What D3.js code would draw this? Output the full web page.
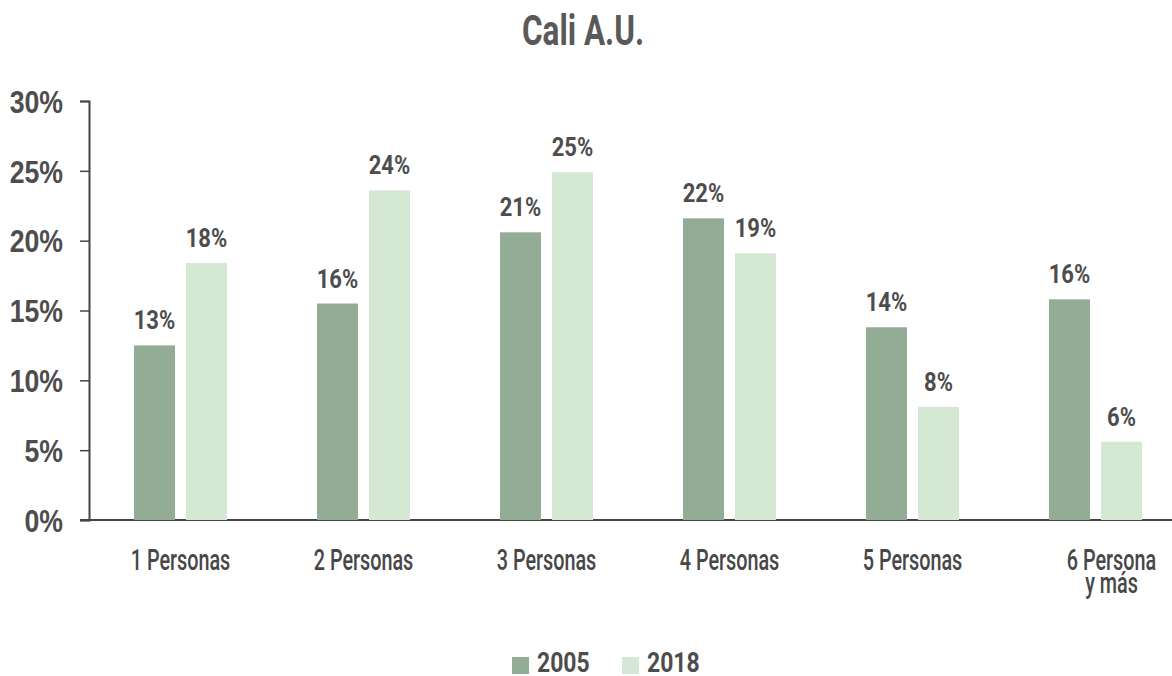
<!DOCTYPE html>
<html>
<head>
<meta charset="utf-8">
<script src="https://cdn.jsdelivr.net/npm/d3@7"></script>
<style>
	body { margin: 0; background: #fff; }
	svg { display: block; font-family: Roboto, "Liberation Sans", sans-serif; }
	.title { font-size: 42px; font-weight: bold; fill: #595959; }
	.tick text { font-size: 31px; font-weight: bold; fill: #4d4d4d; }
	.xlab { font-size: 30px; font-weight: 500; fill: #474747; }
	.val { font-size: 25px; font-weight: bold; fill: #4d4d4d; }
	.leg { font-size: 28px; font-weight: bold; fill: #4d4d4d; }
</style>
</head>
<body>
<svg width="1172" height="676"></svg>
<script>
const categories = ["1 Personas", "2 Personas", "3 Personas", "4 Personas", "5 Personas", "6 Persona|y más"];
const series = ["2005", "2018"];
const values2005 = [12.5, 15.5, 20.6, 21.6, 13.8, 15.8];
const values2018 = [18.4, 23.6, 24.9, 19.1, 8.1, 5.6];
const labels2005 = ["13%", "16%", "21%", "22%", "14%", "16%"];
const labels2018 = ["18%", "24%", "25%", "19%", "8%", "6%"];
const yTicks = [0, 5, 10, 15, 20, 25, 30];
const colors = ["#93ac95", "#d5e8d4"];

const svg = d3.select("svg");

const x = d3.scaleBand().domain(categories).range([89, 1187]);
const y = d3.scaleLinear().domain([0, 30]).range([520, 101]);

// narrow a text horizontally around its anchor point
const squeeze = (sx) => (tx, ty) => `translate(${tx},${ty}) scale(${sx},1)`;

svg.append("text")
	.attr("class", "title")
	.attr("transform", squeeze(0.75)(583, 45))
	.attr("text-anchor", "middle")
	.text("Cali A.U.");

// y axis
const yAxis = svg.append("g")
	.attr("transform", "translate(89,0)")
	.call(d3.axisLeft(y).tickValues(yTicks).tickFormat((d) => d + "%").tickSize(9));
yAxis.select(".domain").attr("stroke", "#444").attr("stroke-width", 2);
yAxis.selectAll(".tick line").attr("stroke", "#444").attr("stroke-width", 1.5);
yAxis.selectAll(".tick text")
	.attr("x", 0)
	.attr("dy", "0.36em")
	.attr("transform", squeeze(0.86)(-26, 0));

// x axis line
svg.append("line")
	.attr("x1", 80).attr("x2", 1172)
	.attr("y1", y(0)).attr("y2", y(0))
	.attr("stroke", "#444").attr("stroke-width", 2);

const data = categories.map((c, i) => ({
	cat: c,
	vals: [
		{ s: 0, v: values2005[i], label: labels2005[i] },
		{ s: 1, v: values2018[i], label: labels2018[i] },
	],
}));

const barW = 41;
const offsets = [-46.5, 5.5];

const groups = svg.selectAll(".grp").data(data).join("g")
	.attr("class", "grp")
	.attr("transform", (d) => `translate(${x(d.cat) + x.bandwidth() / 2},0)`);

groups.selectAll("rect").data((d) => d.vals).join("rect")
	.attr("x", (d) => offsets[d.s])
	.attr("width", barW)
	.attr("y", (d) => y(d.v))
	.attr("height", (d) => y(0) - y(d.v))
	.attr("fill", (d) => colors[d.s]);

groups.selectAll(".val").data((d) => d.vals).join("text")
	.attr("class", "val")
	.attr("transform", (d) => squeeze(0.88)(offsets[d.s] + barW / 2, y(d.v) - 16))
	.attr("text-anchor", "middle")
	.text((d) => d.label);

// category labels
groups.append("text")
	.attr("class", "xlab")
	.attr("text-anchor", "middle")
	.attr("transform", (d, i) => squeeze(0.66)(i === categories.length - 1 ? 16 : 0, 570))
	.selectAll("tspan")
	.data((d) => d.cat.split("|"))
	.join("tspan")
	.attr("x", 0)
	.attr("dy", (d, i) => (i === 0 ? 0 : 23))
	.text((d) => d);

// legend
const legend = svg.append("g").attr("transform", "translate(512,0)");
const legItems = legend.selectAll("g").data(series).join("g")
	.attr("transform", (d, i) => `translate(${i * 110},0)`);
legItems.append("rect")
	.attr("y", 657).attr("width", 17).attr("height", 17)
	.attr("fill", (d, i) => colors[i]);
legItems.append("text")
	.attr("class", "leg")
	.attr("transform", squeeze(0.82)(25, 672))
	.text((d) => d);
</script>
</body>
</html>
